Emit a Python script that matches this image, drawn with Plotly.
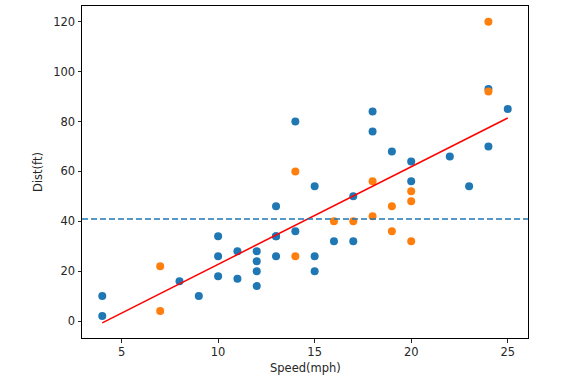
import numpy as np
import plotly.graph_objects as go

# training (blue) points
train_speed = [4, 4, 8, 9, 10, 10, 10, 11, 11, 12, 12, 12, 12, 13, 13, 13, 13, 14, 14,
               15, 15, 15, 16, 17, 17, 18, 18, 19, 20, 20, 22, 23, 24, 24, 25]
train_dist = [2, 10, 16, 10, 18, 26, 34, 17, 28, 14, 20, 24, 28, 26, 34, 34, 46, 36, 80,
              20, 26, 54, 32, 32, 50, 76, 84, 68, 56, 64, 66, 54, 70, 93, 85]
# test (orange) points
test_speed = [7, 7, 14, 14, 16, 17, 18, 18, 19, 19, 20, 20, 20, 24, 24]
test_dist = [4, 22, 26, 60, 40, 40, 42, 56, 36, 46, 32, 48, 52, 92, 120]

x_ticks = [5, 10, 15, 20, 25]
y_ticks = [0, 20, 40, 60, 80, 100, 120]

tx = np.array(train_speed, dtype=float)
ty = np.array(train_dist, dtype=float)
slope, intercept = np.polyfit(tx, ty, 1)
line_x = np.sort(tx)
line_y = slope * line_x + intercept
mean_y = ty.mean()

font = dict(family="DejaVu Sans", size=11.5, color="#262626")

fig = go.Figure()
fig.add_trace(go.Scatter(x=train_speed, y=train_dist, mode="markers",
                         marker=dict(color="#1f77b4", size=8, line=dict(width=0))))
fig.add_trace(go.Scatter(x=test_speed, y=test_dist, mode="markers",
                         marker=dict(color="#ff7f0e", size=8, line=dict(width=0))))
fig.add_trace(go.Scatter(x=line_x, y=line_y, mode="lines",
                         line=dict(color="red", width=1.5)))
fig.add_shape(type="line", xref="paper", yref="y", x0=0, x1=1, y0=mean_y, y1=mean_y,
              line=dict(color="#1f77b4", width=1.5, dash="6px,3px"))

fig.add_annotation(text="Speed(mph)", xref="paper", yref="paper", x=0.5, y=-0.09,
                   xanchor="center", yanchor="middle", showarrow=False, font=font)
fig.add_annotation(text="Dist(ft)", xref="paper", yref="paper", x=-0.0987, y=0.5,
                   xanchor="center", yanchor="middle", textangle=-90, showarrow=False, font=font)

fig.update_layout(
    width=579, height=380,
    margin=dict(l=82, r=51, t=6, b=42, autoexpand=False),
    paper_bgcolor="white", plot_bgcolor="white",
    showlegend=False,
    font=font,
    xaxis=dict(range=[2.95, 26.05], tickvals=x_ticks, ticks="outside", ticklen=3.5,
               tickcolor="#262626", showline=True, linecolor="black", linewidth=1,
               mirror=True, showgrid=False, zeroline=False, automargin=False,
               tickfont=font),
    yaxis=dict(range=[-6.8, 126.3], tickvals=y_ticks, ticks="outside", ticklen=3.5,
               tickcolor="#262626", showline=True, linecolor="black", linewidth=1,
               mirror=True, showgrid=False, zeroline=False, automargin=False,
               tickfont=font),
)

fig.write_html("out.html", config={"displayModeBar": False},
               post_script="document.body.style.margin='0';")
